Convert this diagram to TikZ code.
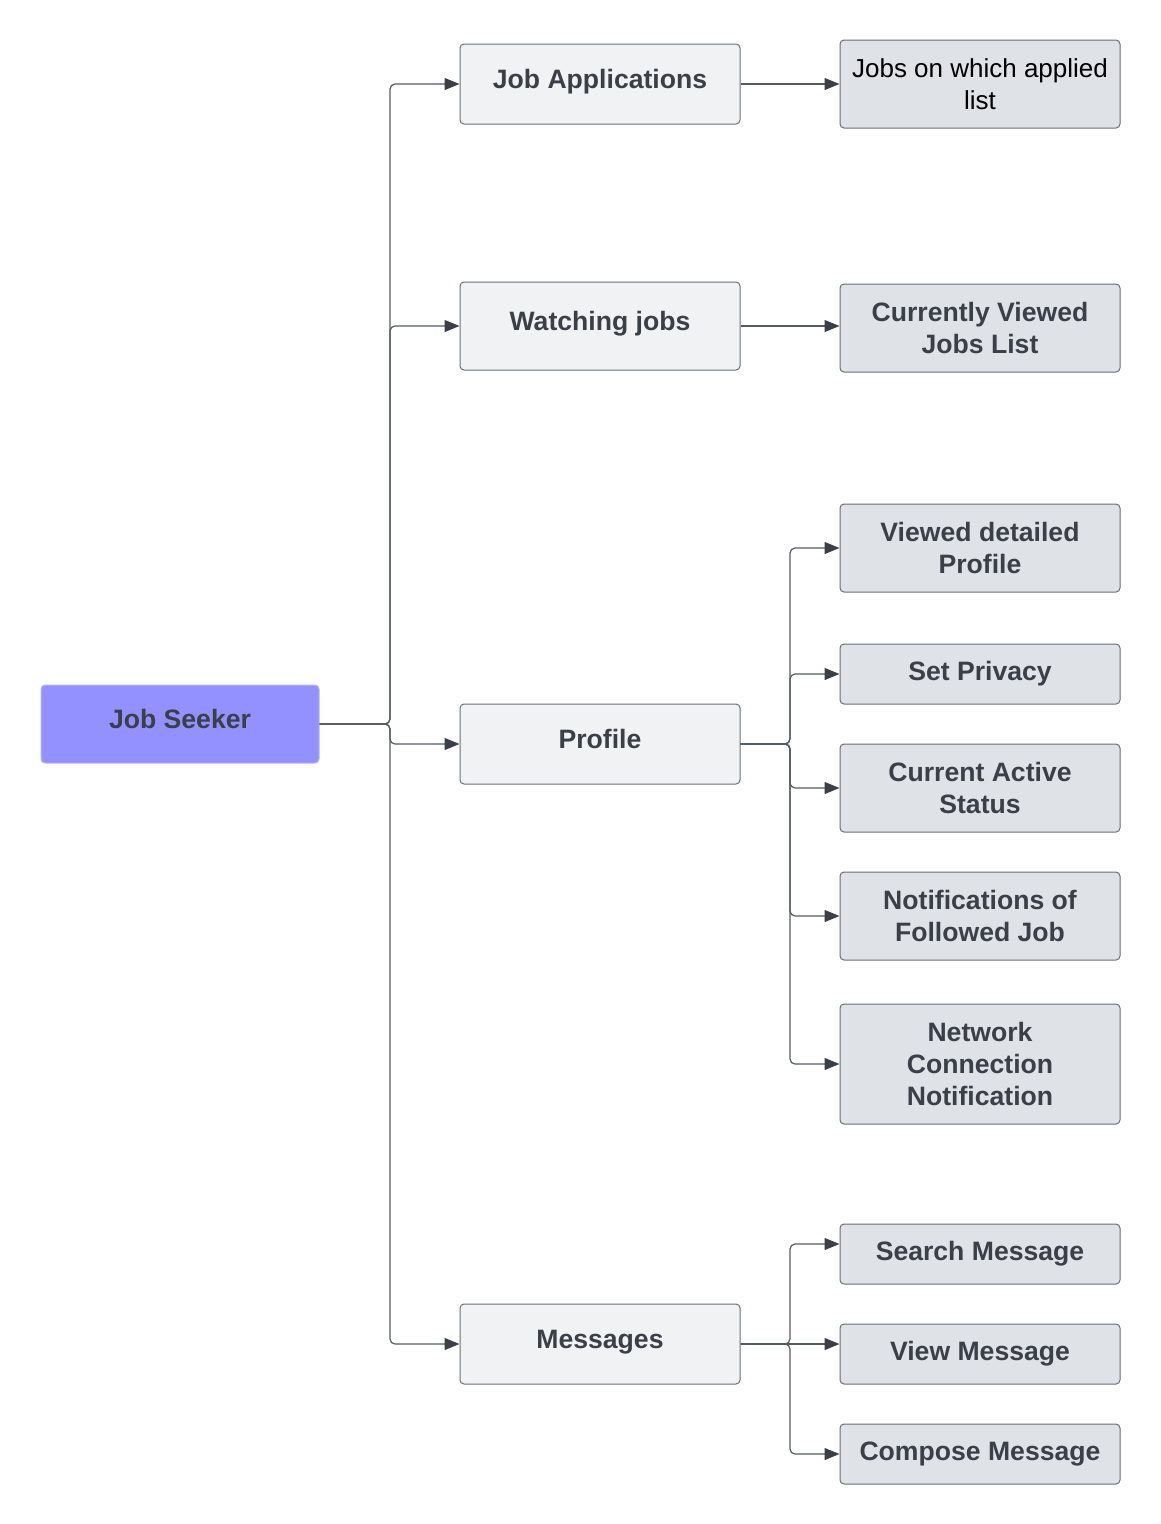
\documentclass[tikz,border=0pt]{standalone}
\usepackage{fontspec}
\setmainfont{Liberation Sans}
\usetikzlibrary{arrows.meta,calc}
\definecolor{txt}{HTML}{3A3F48}
\definecolor{bord}{HTML}{6A6E75}
\definecolor{fillA}{HTML}{F1F2F4}
\definecolor{fillB}{HTML}{DFE2E7}
\definecolor{seek}{HTML}{9391FF}
\definecolor{seekb}{HTML}{B4B3FF}
\definecolor{wire}{HTML}{555A63}
\definecolor{tip}{HTML}{3A3F48}
\tikzset{
  basebox/.style={rectangle, rounded corners=4pt, draw=bord, line width=1pt,
    minimum width=280pt, align=center, inner sep=0pt, text=txt,
    font=\fontsize{26.6}{32}\selectfont\bfseries},
  raisedtext/.style={text height=19pt, text depth=10pt},
  lvlone/.style={basebox, fill=fillA, raisedtext},
  lvltwo/.style={basebox, fill=fillB},
  rootbox/.style={basebox, raisedtext, fill=seek, draw=seekb, minimum width=278pt, minimum height=78pt},
  wirestyle/.style={draw=wire, line width=1.2pt, rounded corners=5pt,
    -{Triangle[length=15pt,width=12pt,color=tip]}},
}
\begin{document}
\begin{tikzpicture}[x=1pt,y=-1pt]
\useasboundingbox (0,0) rectangle (1160,1524);
\node[rootbox] (js) at (180,724) {Job Seeker};
\node[lvlone, minimum height=80pt] (ja) at (600,84) {Job Applications};
\node[lvlone, minimum height=88pt] (wj) at (600,326) {Watching jobs};
\node[lvlone, minimum height=80pt] (pr) at (600,744) {Profile};
\node[lvlone, minimum height=80pt] (ms) at (600,1344) {Messages};
\node[lvltwo, minimum height=88pt, text=black, font=\fontsize{26}{32}\selectfont] (jl) at (980,84) {Jobs on which applied\\list};
\node[lvltwo, minimum height=88pt] (cv) at (980,328) {Currently Viewed\\Jobs List};
\node[lvltwo, minimum height=88pt] (vd) at (980,548) {Viewed detailed\\Profile};
\node[lvltwo, minimum height=60pt] (sp) at (980,674) {Set Privacy};
\node[lvltwo, minimum height=88pt] (ca) at (980,788) {Current Active\\Status};
\node[lvltwo, minimum height=88pt] (nf) at (980,916) {Notifications of\\Followed Job};
\node[lvltwo, minimum height=120pt] (nc) at (980,1064) {Network\\Connection\\Notification};
\node[lvltwo, minimum height=60pt] (sm) at (980,1254) {Search Message};
\node[lvltwo, minimum height=60pt] (vm) at (980,1354) {View Message};
\node[lvltwo, minimum height=60pt] (cm) at (980,1454) {Compose Message};
\coordinate (t1) at (390,724);
\coordinate (t2) at (790,744);
\coordinate (t3) at (790,1344);
\coordinate (smin) at ($(sm.west)+(0,-10)$);
\foreach \n in {ja,wj,pr,ms} \path[wirestyle] (js.east) -- (t1) |- (\n.west);
\path[wirestyle] (ja.east) -- (ja.east -| jl.west);
\path[wirestyle] (wj.east) -- (wj.east -| cv.west);
\foreach \n in {vd,sp,ca,nf,nc} \path[wirestyle] (pr.east) -- (t2) |- (\n.west);
\path[wirestyle] (ms.east) -- (t3) |- (smin);
\path[wirestyle] (ms.east) -- (ms.east -| vm.west);
\path[wirestyle] (ms.east) -- (t3) |- (cm.west);
\end{tikzpicture}
\end{document}
